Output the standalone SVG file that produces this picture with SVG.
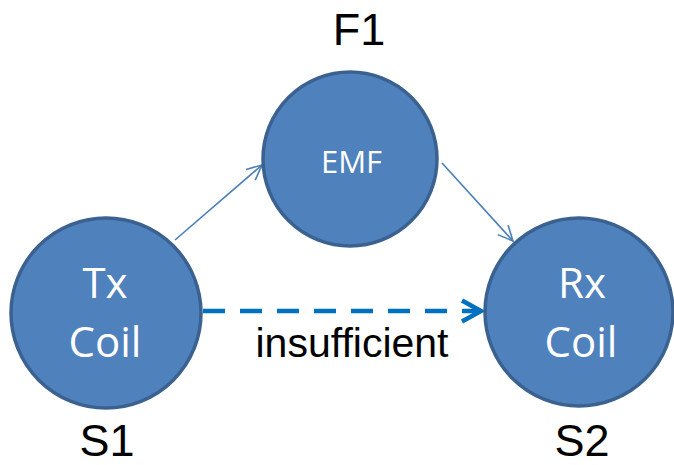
<svg xmlns="http://www.w3.org/2000/svg" width="674" height="465" viewBox="0 0 674 465">
<style>
.node circle{fill:#4F81BD;stroke:#3A6190;stroke-width:3.5}
.in{font-family:"Open Sans","Liberation Sans",sans-serif;fill:#FFFFFF;text-anchor:middle}
.lbl{font-family:"Liberation Sans",Arial,sans-serif;fill:#000000;text-anchor:middle;font-size:45px}
.thin{stroke:#4A7EBB;stroke-width:1.6;fill:none}
.dash{stroke:#0070C0;stroke-width:4.5;fill:none;stroke-dasharray:22 15}
</style>
<defs>
<marker id="ah" markerUnits="userSpaceOnUse" orient="auto" markerWidth="20" markerHeight="20" refX="0" refY="0" viewBox="-18 -10 20 20" overflow="visible">
<path d="M-15,-7 L0,0 L-15,7" fill="none" stroke="#4A7EBB" stroke-width="1.6"/>
</marker>
<marker id="ahd" markerUnits="userSpaceOnUse" orient="auto" markerWidth="30" markerHeight="30" refX="0" refY="0" viewBox="-25 -15 30 30" overflow="visible">
<path d="M-19,-10.5 L0,0 L-19,10.5" fill="none" stroke="#0070C0" stroke-width="4.5" stroke-linejoin="miter"/>
</marker>
</defs>
<g id="connectors">
<line class="thin" x1="175" y1="240" x2="262" y2="165" marker-end="url(#ah)"/>
<line class="thin" x1="442" y1="163" x2="513" y2="241" marker-end="url(#ah)"/>
<line class="dash" x1="203" y1="311" x2="481" y2="311" marker-end="url(#ahd)"/>
</g>
<g id="node-emf" class="node">
<circle cx="350" cy="159" r="87"/>
<text class="in" x="351.5" y="173" font-size="31">EMF</text>
</g>
<g id="node-tx" class="node">
<circle cx="106" cy="313" r="95"/>
<text class="in" x="105" y="298" font-size="42">Tx</text>
<text class="in" x="105" y="357" font-size="42">Coil</text>
</g>
<g id="node-rx" class="node">
<circle cx="579" cy="312" r="94"/>
<text class="in" x="582" y="298" font-size="42">Rx</text>
<text class="in" x="581" y="357" font-size="42">Coil</text>
</g>
<g id="labels">
<text class="lbl" x="359" y="45">F1</text>
<text class="lbl" x="107" y="456">S1</text>
<text class="lbl" x="582" y="456">S2</text>
<text class="lbl" x="352" y="357" style="font-size:41px">insufficient</text>
</g>
</svg>
